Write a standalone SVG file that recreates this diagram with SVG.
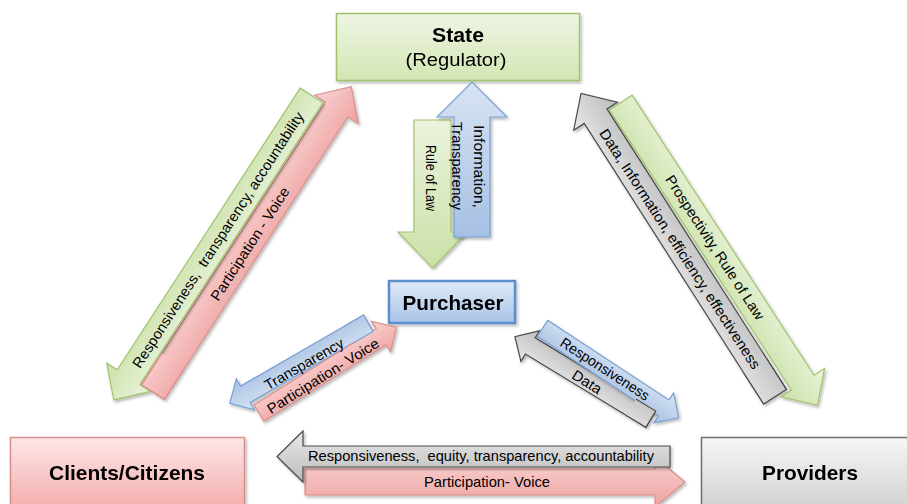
<svg xmlns="http://www.w3.org/2000/svg" width="907" height="504" viewBox="0 0 907 504">
  <style>
    .t { font-family: "Liberation Sans", Arial, sans-serif; fill: #000; text-anchor: middle; dominant-baseline: central; }
    .lbl { font-size: 14.5px; white-space: pre; }
    .node { font-size: 21px; font-weight: bold; }
    .green { fill: url(#gGreen); stroke: #a2c46e; stroke-width: 1.2; }
    .red { fill: url(#gRed); stroke: #d98e8c; stroke-width: 1.2; }
    .blue { fill: url(#gBlue); stroke: #7b9fd2; stroke-width: 1.2; }
    .gray { fill: url(#gGray); stroke: #4a4a4a; stroke-width: 1.2; }
  </style>
  <defs>
    <linearGradient id="gGreen" x1="0" y1="0" x2="0" y2="1">
      <stop offset="0" stop-color="#eaf3dc"/>
      <stop offset="1" stop-color="#cbe1a8"/>
    </linearGradient>
    <linearGradient id="gRed" x1="0" y1="0" x2="0" y2="1">
      <stop offset="0" stop-color="#f9d3d2"/>
      <stop offset="1" stop-color="#eea2a0"/>
    </linearGradient>
    <linearGradient id="gBlue" x1="0" y1="0" x2="0" y2="1">
      <stop offset="0" stop-color="#d8e4f3"/>
      <stop offset="1" stop-color="#a6c0e3"/>
    </linearGradient>
    <linearGradient id="gGray" x1="0" y1="0" x2="0" y2="1">
      <stop offset="0" stop-color="#e8e8e8"/>
      <stop offset="1" stop-color="#bcbcbc"/>
    </linearGradient>
    <linearGradient id="nState" x1="0" y1="0" x2="0" y2="1">
      <stop offset="0" stop-color="#eef5e4"/>
      <stop offset="1" stop-color="#d3e6b3"/>
    </linearGradient>
    <linearGradient id="nPurch" x1="0" y1="0" x2="0" y2="1">
      <stop offset="0" stop-color="#e0eaf6"/>
      <stop offset="1" stop-color="#a9c4e8"/>
    </linearGradient>
    <linearGradient id="nClients" x1="0" y1="0" x2="0" y2="1">
      <stop offset="0" stop-color="#fde7e7"/>
      <stop offset="1" stop-color="#f3a5a5"/>
    </linearGradient>
    <linearGradient id="nProv" x1="0" y1="0" x2="0" y2="1">
      <stop offset="0" stop-color="#f6f6f6"/>
      <stop offset="1" stop-color="#cdcdcd"/>
    </linearGradient>
    <filter id="sh" x="-15%" y="-15%" width="140%" height="140%">
      <feDropShadow dx="1.5" dy="2" stdDeviation="1.5" flood-color="#000" flood-opacity="0.28"/>
    </filter>
    <!-- tail windows, in each arrow's own frame, used to lay a tail back over its partner's head -->
    <clipPath id="cTailBL"><rect transform="translate(153,392) rotate(-57)" x="-3" y="-16" width="40" height="32"/></clipPath>
    <clipPath id="cTailBR"><rect transform="translate(775,396.7) rotate(-122.6)" x="-3" y="-16" width="40" height="32"/></clipPath>
    <clipPath id="cTailSL"><rect transform="translate(368.3,323.3) rotate(150)" x="-3" y="-12" width="26" height="24"/></clipPath>
    <clipPath id="cTailSR"><rect transform="translate(650.8,419.2) rotate(-148.7)" x="-3" y="-12" width="26" height="24"/></clipPath>
  </defs>

  <rect width="907" height="504" fill="#ffffff"/>

  <!-- nodes -->
  <g id="state" filter="url(#sh)">
    <rect x="336.5" y="13.5" width="243" height="67" fill="url(#nState)" stroke="#a0c26b" stroke-width="1.5"/>
    <text class="t node" x="458" y="34" textLength="52" lengthAdjust="spacingAndGlyphs">State</text>
    <text class="t" x="456" y="60" font-size="18" textLength="101" lengthAdjust="spacingAndGlyphs">(Regulator)</text>
  </g>

  <g id="purchaser" filter="url(#sh)">
    <rect x="389" y="281" width="126" height="42" fill="url(#nPurch)" stroke="#5b8dcd" stroke-width="2.5"/>
    <text class="t node" x="453" y="302" textLength="101" lengthAdjust="spacingAndGlyphs">Purchaser</text>
  </g>

  <g id="clients" filter="url(#sh)">
    <rect x="10.5" y="437.5" width="234" height="80" fill="url(#nClients)" stroke="#d68e8d" stroke-width="1.5"/>
    <text class="t node" x="127" y="472" textLength="156" lengthAdjust="spacingAndGlyphs">Clients/Citizens</text>
  </g>

  <g id="providers" filter="url(#sh)">
    <rect x="701.5" y="437.5" width="220" height="80" fill="url(#nProv)" stroke="#707070" stroke-width="1.5"/>
    <text class="t node" x="810" y="472" textLength="96" lengthAdjust="spacingAndGlyphs">Providers</text>
  </g>

  <!-- connectors -->
  <g id="connectors">
    <!-- State <-> Clients -->
    <g filter="url(#sh)">
      <path id="aRedL" class="red" transform="translate(153,392) rotate(-57)" d="M0,-13.5 H337 V-26 L364,0 L337,26 V13.5 H0 Z"/>
    </g>
    <g filter="url(#sh)">
      <path class="green" transform="translate(311.5,95.5) rotate(123)" d="M0,-13.5 H336 V-26 L363,0 L336,26 V13.5 H0 Z"/>
    </g>
    <g clip-path="url(#cTailBL)"><use href="#aRedL"/></g>
    <text class="t lbl" transform="translate(218,240) rotate(-57)" textLength="302" lengthAdjust="spacingAndGlyphs">Responsiveness,  transparency, accountability</text>
    <text class="t lbl" transform="translate(250,244) rotate(-57)" textLength="132" lengthAdjust="spacingAndGlyphs">Participation - Voice</text>

    <!-- State <-> Providers -->
    <g filter="url(#sh)">
      <path id="aGrayR" class="gray" transform="translate(775,396.7) rotate(-122.6)" d="M0,-13.5 H333 V-26 L360,0 L333,26 V13.5 H0 Z"/>
    </g>
    <g filter="url(#sh)">
      <path class="green" transform="translate(620.8,102.5) rotate(57)" d="M0,-13.5 H334 V-26 L361,0 L334,26 V13.5 H0 Z"/>
    </g>
    <g clip-path="url(#cTailBR)"><use href="#aGrayR"/></g>
    <text class="t lbl" transform="translate(680,249) rotate(57)" textLength="283" lengthAdjust="spacingAndGlyphs">Data, Information, efficiency, effectiveness</text>
    <text class="t lbl" transform="translate(715,247.5) rotate(57)" textLength="169" lengthAdjust="spacingAndGlyphs">Prospectivity, Rule of Law</text>

    <!-- State <-> Purchaser -->
    <g filter="url(#sh)">
      <path class="green" d="M414,120 H451 V232 H467 L432.5,268 L398,232 H414 Z"/>
    </g>
    <g filter="url(#sh)">
      <path class="blue" d="M454,237 V117 H437 L472,82 L507,117 H490 V237 Z"/>
    </g>
    <text class="t lbl" transform="translate(431,178) rotate(90)" textLength="66" lengthAdjust="spacingAndGlyphs">Rule of Law</text>
    <text class="t lbl" transform="translate(479,166.5) rotate(90)" textLength="83" lengthAdjust="spacingAndGlyphs">Information,</text>
    <text class="t lbl" transform="translate(457,166) rotate(90)" textLength="88" lengthAdjust="spacingAndGlyphs">Transparency</text>

    <!-- Purchaser <-> Clients -->
    <g filter="url(#sh)">
      <path id="aBlueSL" class="blue" transform="translate(368.3,323.3) rotate(150)" d="M0,-9.5 H142 V-18 L160,0 L142,18 V9.5 H0 Z"/>
    </g>
    <g filter="url(#sh)">
      <path class="red" transform="translate(259,413) rotate(-32)" d="M0,-9.5 H144 V-18 L162,0 L144,18 V9.5 H0 Z"/>
    </g>
    <g clip-path="url(#cTailSL)"><use href="#aBlueSL"/></g>
    <text class="t lbl" transform="translate(304,364) rotate(-30)" textLength="89" lengthAdjust="spacingAndGlyphs">Transparency</text>
    <text class="t lbl" transform="translate(323,376) rotate(-32)" textLength="129" lengthAdjust="spacingAndGlyphs">Participation- Voice</text>

    <!-- Purchaser <-> Providers -->
    <g filter="url(#sh)">
      <path id="aGraySR" class="gray" transform="translate(650.8,419.2) rotate(-148.7)" d="M0,-9.5 H141 V-18 L159,0 L141,18 V9.5 H0 Z"/>
    </g>
    <g filter="url(#sh)">
      <path class="blue" transform="translate(542.5,328.3) rotate(33.3)" d="M0,-9.5 H145 V-18 L163,0 L145,18 V9.5 H0 Z"/>
    </g>
    <g clip-path="url(#cTailSR)"><use href="#aGraySR"/></g>
    <text class="t lbl" transform="translate(605,369) rotate(33)" textLength="103" lengthAdjust="spacingAndGlyphs">Responsiveness</text>
    <text class="t lbl" transform="translate(587,382) rotate(32)" textLength="32" lengthAdjust="spacingAndGlyphs">Data</text>

    <!-- Clients <-> Providers -->
    <g filter="url(#sh)">
      <path class="red" d="M305,469 H655 V457 L685,482 L655,507 V495 H305 Z"/>
    </g>
    <g filter="url(#sh)">
      <path class="gray" d="M670,446 H303 V431 L277,456.5 L303,482 V467 H670 Z"/>
    </g>
    <text class="t lbl" x="481" y="456" textLength="346" lengthAdjust="spacingAndGlyphs">Responsiveness,  equity, transparency, accountability</text>
    <text class="t lbl" x="487" y="482" textLength="126" lengthAdjust="spacingAndGlyphs">Participation- Voice</text>
  </g>
</svg>
